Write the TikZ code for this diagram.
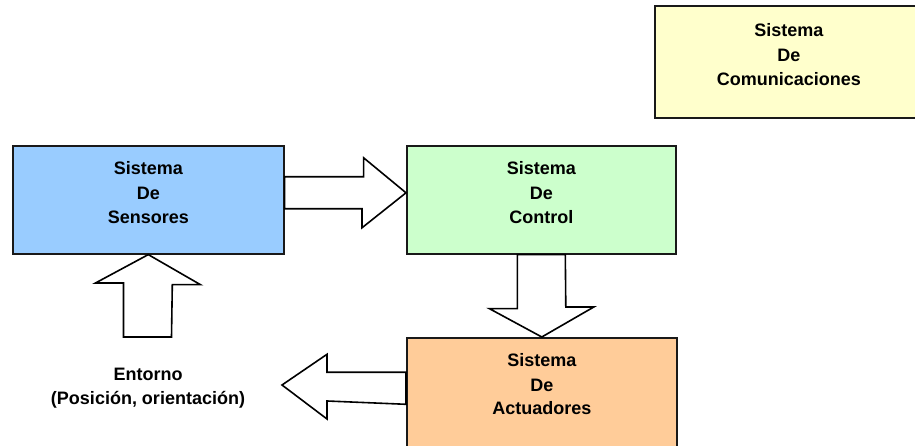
\documentclass[tikz,border=0pt]{standalone}
\usepackage{fontspec}
\setmainfont{Liberation Sans}
\usetikzlibrary{calc}
\definecolor{cblue}{HTML}{99CCFF}
\definecolor{cgreen}{HTML}{CCFFCC}
\definecolor{cpeach}{HTML}{FFCC99}
\definecolor{cyellow}{HTML}{FFFFCC}
\tikzset{
  sysbox/.style={draw=black!90, line width=1.6pt, rectangle, inner sep=0pt},
  lbl/.style={font=\fontsize{18}{25}\selectfont\bfseries, anchor=base, inner sep=0pt},
  barrow/.style={draw=black, fill=white, line width=1.6pt, line join=miter}
}
\begin{document}
\begin{tikzpicture}[x=1pt,y=1pt]
\useasboundingbox (0,0) rectangle (915,446);
\clip (0,0) rectangle (915,446);
\fill[white] (0,0) rectangle (915,446);
% boxes
\node[sysbox, fill=cyellow, minimum width=269pt, minimum height=112pt, anchor=north west] (com) at (654,441) {};
\node[sysbox, fill=cblue, minimum width=271pt, minimum height=108pt, anchor=north west] (sen) at (12,301) {};
\node[sysbox, fill=cgreen, minimum width=269pt, minimum height=108pt, anchor=north west] (con) at (406,301) {};
\node[sysbox, fill=cpeach, minimum width=270pt, minimum height=112pt, anchor=north west] (act) at (406,109) {};
% labels
\node[lbl] (comA) at ($(com.center)+(-0.5,25)$) {Sistema};
\node[lbl] (comB) at ($(com.center)+(-0.5,0)$) {De};
\node[lbl] (comC) at ($(com.center)+(-0.5,-24)$) {Comunicaciones};
\node[lbl] (senA) at ($(sen.center)+(0,25)$) {Sistema};
\node[lbl] (senB) at ($(sen.center)+(0,0)$) {De};
\node[lbl] (senC) at ($(sen.center)+(0,-24)$) {Sensores};
\node[lbl] (conA) at ($(con.center)+(0,25)$) {Sistema};
\node[lbl] (conB) at ($(con.center)+(0,0)$) {De};
\node[lbl] (conC) at ($(con.center)+(0,-24)$) {Control};
\node[lbl] (actA) at ($(act.north)+(0,-30)$) {Sistema};
\node[lbl] (actB) at ($(act.north)+(0,-55)$) {De};
\node[lbl] (actC) at ($(act.north)+(0,-78)$) {Actuadores};
\node[lbl] (entA) at (148,65.3) {Entorno};
\node[lbl] (entB) at (148,41) {(Posición, orientación)};
% block arrows
\draw[barrow] ($(sen.east)+(0,23)$) -- ++(79,0) -- ++(0,19) -- ($(con.west)+(0,7)$)
  -- ++(-44,-35) -- ++(0,19) -- ($(sen.east)+(0,-9)$) -- cycle;
\coordinate (upfoot) at (147.5,109);
\draw[barrow] (sen.south) -- ++(52,-30) -- ++(-28,0) -- ($(upfoot)+(24,0)$)
  -- ($(upfoot)+(-24,0)$) -- ++(0,54) -- ++(-28,0) -- cycle;
\draw[barrow] ($(con.south)+(-24,0)$) -- ++(0,-54) -- ++(-28,0) -- (act.north)
  -- ++(52,30) -- ++(-28,0) -- ($(con.south)+(24,0)$) -- cycle;
\coordinate (lefttip) at (282,61);
\draw[barrow] ($(act.west)+(0,21.5)$) -- ++(-79,0) -- ++(0,18) -- (lefttip)
  -- ++(45,-34) -- ++(0,18) -- ($(act.west)+(0,-10.5)$) -- cycle;
\end{tikzpicture}
\end{document}
